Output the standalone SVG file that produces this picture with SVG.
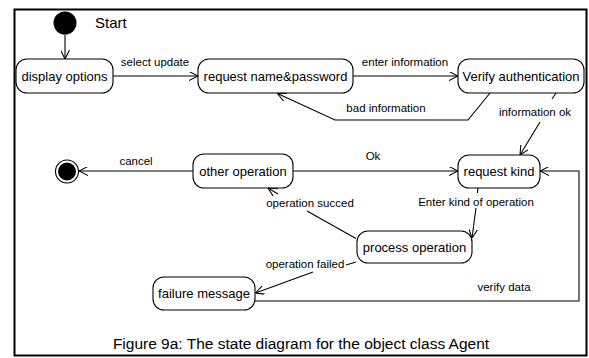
<svg xmlns="http://www.w3.org/2000/svg" width="589" height="358" viewBox="0 0 589 358">
<defs>
<style>
.frame{fill:none;stroke:#000;stroke-width:2}
.state{fill:#fff;stroke:#000;stroke-width:1.1}
.st{font-family:"Liberation Sans",Arial,sans-serif;font-size:13px;fill:#000;text-anchor:middle}
.lb{font-family:"Liberation Sans",Arial,sans-serif;font-size:11.5px;fill:#000;text-anchor:middle}
.ln{fill:none;stroke:#000;stroke-width:1.1}
.arr{marker-end:url(#a)}
</style>
<marker id="a" viewBox="0 0 10 10" refX="10" refY="5" markerWidth="9" markerHeight="9" markerUnits="userSpaceOnUse" orient="auto">
<path d="M0,0 L10,5 L0,10" fill="none" stroke="#000" stroke-width="1.2"/>
</marker>
</defs>
<rect width="589" height="358" fill="#fff"/>
<rect class="frame" x="14.5" y="9.5" width="572" height="346"/>

<g id="start">
<circle cx="65" cy="23" r="11.5" fill="#000"/>
<text x="95" y="28" font-family="'Liberation Sans',Arial,sans-serif" font-size="15" fill="#000">Start</text>
</g>
<g id="end">
<circle cx="67" cy="171.5" r="11.5" fill="#fff" stroke="#000" stroke-width="1.1"/>
<circle cx="67" cy="171.5" r="9" fill="#000"/>
</g>
<g id="display_options">
<rect class="state" x="16" y="59" width="97" height="34" rx="11"/>
<text class="st" x="64.5" y="80.5">display options</text>
</g>
<g id="request_name_password">
<rect class="state" x="198" y="59" width="155" height="34" rx="11"/>
<text class="st" x="275.5" y="80.5">request name&amp;password</text>
</g>
<g id="verify_authentication">
<rect class="state" x="458" y="59" width="126" height="34" rx="11"/>
<text class="st" x="521" y="80.5">Verify authentication</text>
</g>
<g id="other_operation">
<rect class="state" x="193" y="154" width="100" height="34" rx="11"/>
<text class="st" x="243" y="175.5">other operation</text>
</g>
<g id="request_kind">
<rect class="state" x="458" y="155" width="82" height="33" rx="11"/>
<text class="st" x="499" y="176">request kind</text>
</g>
<g id="process_operation">
<rect class="state" x="357" y="231" width="115" height="32" rx="11"/>
<text class="st" x="414.5" y="251.5">process operation</text>
</g>
<g id="failure_message">
<rect class="state" x="153" y="277" width="102" height="33" rx="11"/>
<text class="st" x="204" y="297.5">failure message</text>
</g>

<g id="connectors">
<line class="ln arr" x1="65" y1="34.5" x2="65" y2="59"/>
<line class="ln arr" x1="113" y1="76" x2="198" y2="76"/>
<text class="lb" x="155" y="66">select update</text>
<line class="ln arr" x1="353" y1="76" x2="458" y2="76"/>
<text class="lb" x="405" y="66">enter information</text>
<polyline class="ln arr" points="490,93 468,120 335,120 277.5,93.5"/>
<text class="lb" x="386" y="112">bad information</text>
<line class="ln" x1="556" y1="93" x2="552" y2="99"/>
<line class="ln arr" x1="540" y1="122" x2="520" y2="155"/>
<text class="lb" x="535" y="116">information ok</text>
<line class="ln arr" x1="193" y1="171" x2="79" y2="171"/>
<text class="lb" x="136" y="165">cancel</text>
<line class="ln arr" x1="293" y1="171" x2="458" y2="171"/>
<text class="lb" x="373" y="160">Ok</text>
<line class="ln" x1="478" y1="188" x2="477.4" y2="193"/>
<line class="ln arr" x1="476" y1="208" x2="472" y2="238"/>
<text class="lb" x="476" y="206" font-size="10.5">Enter kind of operation</text>
<line class="ln" x1="356" y1="238.5" x2="307" y2="211"/>
<line class="ln arr" x1="278" y1="194" x2="268" y2="188"/>
<text class="lb" x="310" y="207">operation succed</text>
<line class="ln" x1="356" y1="262" x2="346" y2="265"/>
<line class="ln arr" x1="313" y1="272" x2="255.5" y2="293"/>
<text class="lb" x="305" y="268">operation failed</text>
<polyline class="ln arr" points="255,301 579,301 579,171 540,171"/>
<text class="lb" x="504" y="291">verify data</text>
</g>
<text x="301" y="349" font-family="'Liberation Sans',Arial,sans-serif" font-size="15.5" fill="#000" text-anchor="middle">Figure 9a: The state diagram for the object class Agent</text>
</svg>
